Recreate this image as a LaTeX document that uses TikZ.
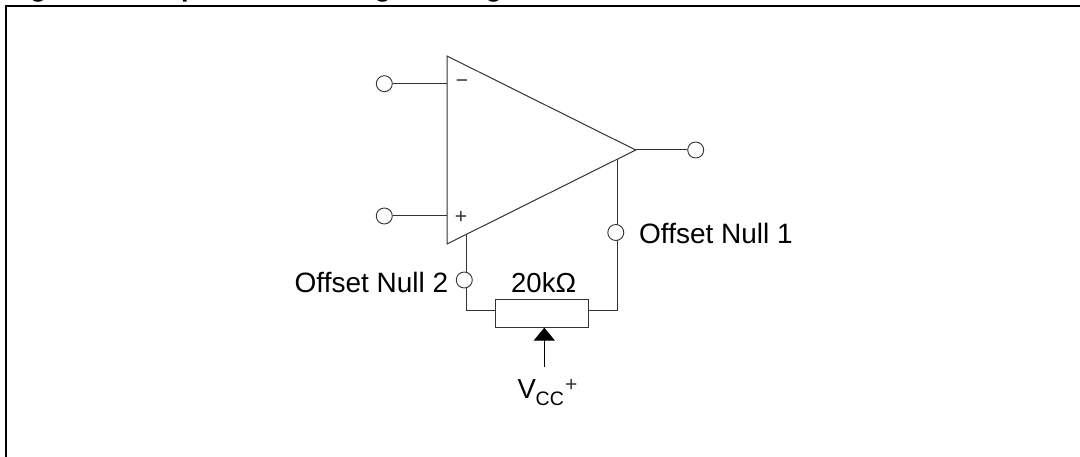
\documentclass[tikz,border=0pt]{standalone}
\usepackage{fontspec}
\setmainfont{Liberation Sans}
\usetikzlibrary{arrows.meta,backgrounds}
\tikzset{
  wire/.style={draw=black!80,line width=1pt},
  pinc/.style={circle,draw=black!80,fill=white,line width=0.9pt,minimum size=16pt,inner sep=0pt},
  lbl/.style={inner sep=0pt,anchor=base west,font=\fontsize{28pt}{30pt}\selectfont},
  sign/.style={inner sep=0pt,text=black!80,font=\fontsize{21pt}{22pt}\selectfont},
  ttl/.style={inner sep=0pt,anchor=base west,font=\fontsize{27pt}{30pt}\selectfont\bfseries},
  framel/.style={draw=black,line width=2.2pt}
}
\begin{document}
\begin{tikzpicture}[x=1pt,y=-1pt]
\useasboundingbox (0,0) rectangle (1080,457);
\clip (0,0) rectangle (1080,457);
% cropped caption
\node[ttl] (cap1) at (6,-3.6) {Figure};
\node[ttl] (cap2) at (157,-3.6) {Input offset voltage nulling circuit};
% frame
\draw[framel] (6,470) -- (6,6) -- (1090,6);
% amplifier
\coordinate (tA) at (447,56);
\coordinate (tB) at (447,244);
\coordinate (tip) at (635.7,150);
\draw[wire,line join=miter,fill=white] (tA) -- (tip) -- (tB) -- cycle;
\node[sign] (minus) at (462,83.5) {−};
\node[sign] (plus) at (461,217) {+};
% pins
\node[pinc] (inm) at (384.3,83.7) {};
\node[pinc] (inp) at (384.3,216) {};
\node[pinc] (out) at (695.7,150) {};
\node[pinc] (n1) at (615.8,232.5) {};
\node[pinc] (n2) at (464.3,280) {};
\draw[wire] (inm) -- (inm -| tA);
\draw[wire] (inp) -- (inp -| tA);
\draw[wire] (tip) -- (out);
% potentiometer
\node[draw=black!80,fill=white,line width=1pt,minimum width=93.7pt,minimum height=27.7pt,inner sep=0pt] (res) at (541.9,313.2) {};
\coordinate (j1) at (617.3,159.5);
\coordinate (j2) at (466,235);
\coordinate (c1) at (617.3,310.7);
\coordinate (c2) at (466,310.7);
\begin{pgfonlayer}{background}
\draw[wire] (j1) -- (c1) -- (c1 -| res.center);
\draw[wire] (j2) -- (c2) -- (c2 -| res.center);
\end{pgfonlayer}
\coordinate (wip) at (544.3,327.6);
\coordinate (vs) at (544.3,366.7);
\draw[draw=black,line width=1pt,-{Triangle[width=21pt,length=13pt]}] (vs) -- (wip);
% labels
\node[lbl] (l1) at (639,244) {Offset Null 1};
\node[lbl] (l2) at (294.5,292.7) {Offset Null 2};
\node[lbl,font=\fontsize{27.5pt}{30pt}\selectfont] (l3) at (511,292.7) {20kΩ};
\node[lbl,font=\fontsize{27.5pt}{30pt}\selectfont] (v) at (517.5,398) {V};
\node[inner sep=0pt,anchor=base west,font=\fontsize{19.5pt}{20pt}\selectfont] (cc) at (535.5,405.5) {CC};
\node[inner sep=0pt,anchor=base west,font=\fontsize{21pt}{22pt}\selectfont,text=black!80] (sup) at (565,391.5) {+};
\end{tikzpicture}
\end{document}
